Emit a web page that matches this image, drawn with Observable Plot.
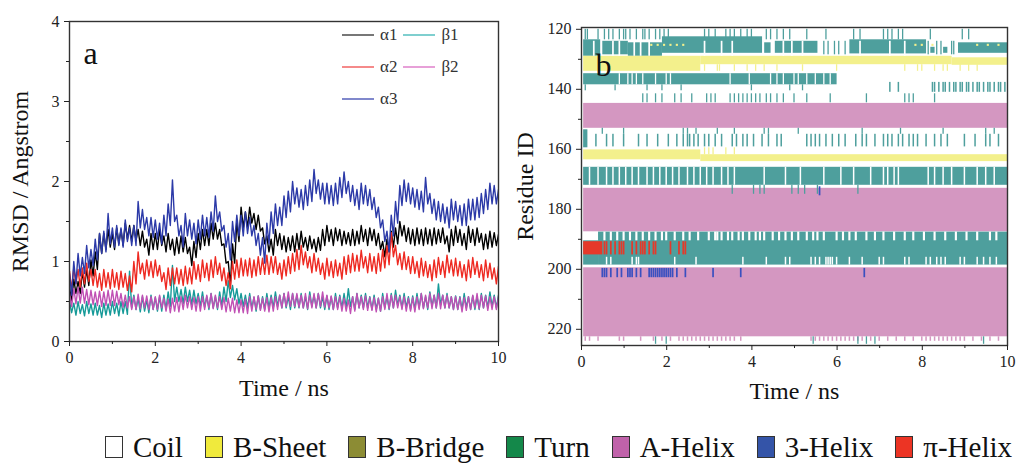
<!DOCTYPE html>
<html><head><meta charset="utf-8">
<script src="https://cdn.jsdelivr.net/npm/d3@7"></script>
<script src="https://cdn.jsdelivr.net/npm/@observablehq/plot@0.6"></script>
<style>
body{margin:0;background:#fff;font-family:"Liberation Serif","Times New Roman",serif;color:#222}
#wrap{position:relative;width:1016px;height:463px;overflow:hidden;background:#fff}
#pa{position:absolute;left:0;top:0}
#pb{position:absolute;left:505px;top:0}
svg text{font-family:"Liberation Serif","Times New Roman",serif}
#lga{position:absolute;left:342px;top:19px;display:grid;grid-template-columns:auto auto;column-gap:6px;grid-auto-rows:32px;font-size:17px;color:#333}
#lga .it{display:flex;align-items:center}
#lga .ln{display:inline-block;width:32px;height:1.6px;margin-right:6px}
#lgb{position:absolute;left:0;top:431px;width:1016px;height:32px;display:flex;align-items:center;justify-content:flex-end;padding-right:4px;box-sizing:border-box;font-size:29px;color:#111}
#lgb .it{display:flex;align-items:center;margin-left:22px}
#lgb .sw{display:inline-block;width:18px;height:22px;border:1px solid #333;margin-right:10px;box-sizing:border-box}
</style></head>
<body><div id="wrap"><div id="pa"></div><div id="pb"></div><div id="lga"></div><div id="lgb"></div></div>
<script>
// ---------- Panel a: RMSD traces, read as upper (hi) and lower (lo) excursions of the noisy trace every 0.1 ns ----------
const seriesNames = ["α1", "β1", "α2", "β2", "α3"];
const alpha1Hi = [0.68,0.78,0.75,0.88,0.9,1.02,1.12,1.35,1.35,1.4, 1.35,1.42,1.4,1.48,1.45,1.45,1.4,1.38,1.28,1.35, 1.35,1.4,1.32,1.35,1.28,1.3,1.32,1.3,1.18,1.25, 1.35,1.4,1.4,1.48,1.48,1.4,1.22,1.0,1.22,1.5, 1.68,1.62,1.68,1.6,1.58,1.42,1.32,1.28,1.4,1.35, 1.32,1.3,1.32,1.35,1.38,1.3,1.32,1.28,1.3,1.4, 1.45,1.4,1.42,1.4,1.38,1.36,1.4,1.38,1.45,1.4, 1.42,1.4,1.35,1.25,1.28,1.38,1.42,1.5,1.45,1.42, 1.4,1.42,1.4,1.42,1.4,1.42,1.4,1.42,1.32,1.4, 1.44,1.4,1.35,1.44,1.4,1.42,1.35,1.34,1.38,1.36, 1.34];
const alpha1Lo = [0.5,0.6,0.6,0.68,0.7,0.82,0.9,1.1,1.15,1.18, 1.15,1.22,1.2,1.28,1.25,1.26,1.2,1.18,1.08,1.15, 1.15,1.2,1.12,1.15,1.08,1.1,1.12,1.1,0.95,1.05, 1.15,1.2,1.2,1.28,1.28,1.2,0.98,0.7,0.98,1.25, 1.42,1.42,1.48,1.4,1.38,1.22,1.12,1.08,1.2,1.15, 1.12,1.14,1.12,1.15,1.18,1.14,1.16,1.12,1.14,1.2, 1.25,1.2,1.26,1.2,1.22,1.2,1.2,1.22,1.25,1.2, 1.26,1.2,1.15,1.06,1.12,1.18,1.22,1.32,1.25,1.22, 1.2,1.22,1.2,1.22,1.2,1.22,1.24,1.22,1.12,1.2, 1.24,1.2,1.15,1.24,1.2,1.24,1.15,1.16,1.18,1.2, 1.16];
const beta1Hi = [0.5,0.48,0.5,0.46,0.5,0.47,0.48,0.45,0.48,0.47, 0.5,0.48,0.5,0.5,0.88,0.58,0.54,0.56,0.52,0.58, 0.55,0.56,0.58,0.62,0.95,0.68,0.65,0.68,0.64,0.64, 0.6,0.62,0.56,0.6,0.56,0.62,0.68,0.76,0.7,0.66, 0.6,0.58,0.6,0.55,0.57,0.56,0.6,0.58,0.62,0.58, 0.6,0.56,0.6,0.58,0.6,0.56,0.62,0.58,0.6,0.56, 0.57,0.56,0.6,0.58,0.6,0.66,0.56,0.6,0.58,0.6, 0.56,0.58,0.54,0.6,0.56,0.6,0.64,0.58,0.6,0.56, 0.57,0.6,0.6,0.56,0.62,0.58,0.72,0.58,0.6,0.56, 0.57,0.56,0.6,0.56,0.57,0.56,0.6,0.58,0.62,0.58, 0.58];
const beta1Lo = [0.36,0.33,0.35,0.32,0.35,0.33,0.33,0.3,0.33,0.33, 0.35,0.32,0.35,0.34,0.42,0.4,0.37,0.38,0.36,0.4, 0.38,0.38,0.4,0.44,0.5,0.5,0.47,0.5,0.46,0.47, 0.44,0.43,0.4,0.42,0.4,0.44,0.5,0.55,0.52,0.47, 0.44,0.42,0.42,0.38,0.4,0.4,0.42,0.42,0.44,0.42, 0.42,0.4,0.42,0.42,0.42,0.4,0.44,0.42,0.42,0.4, 0.4,0.4,0.42,0.42,0.42,0.44,0.4,0.42,0.42,0.42, 0.4,0.4,0.38,0.42,0.4,0.42,0.45,0.42,0.42,0.4, 0.4,0.42,0.42,0.4,0.44,0.42,0.46,0.42,0.42,0.4, 0.4,0.4,0.42,0.4,0.4,0.4,0.42,0.42,0.44,0.42, 0.42];
const alpha2Hi = [0.88,0.92,0.9,0.92,0.98,0.9,0.9,0.85,0.9,0.86, 0.9,0.86,0.88,0.85,0.82,1.0,1.12,0.98,1.02,1.0, 1.02,0.95,0.86,0.92,0.92,0.92,0.9,0.94,0.92,1.0, 0.96,1.02,0.98,1.02,1.06,0.98,0.92,0.86,1.0,1.02, 1.04,1.02,1.04,1.02,1.06,1.04,1.08,1.06,1.06,0.98, 1.02,1.06,1.1,1.15,1.2,1.12,1.06,1.1,1.04,0.98, 1.04,1.0,1.02,0.98,1.06,1.08,1.1,1.08,1.14,1.06, 1.1,1.06,1.1,1.15,1.2,1.36,1.2,1.1,1.12,1.06, 1.06,1.0,1.04,1.0,0.96,1.02,1.05,1.0,1.08,1.02, 1.04,1.0,0.96,1.02,1.05,1.0,0.96,1.02,0.98,0.92, 0.94];
const alpha2Lo = [0.65,0.72,0.68,0.72,0.75,0.7,0.68,0.64,0.68,0.66, 0.68,0.65,0.68,0.64,0.62,0.72,0.85,0.78,0.82,0.8, 0.82,0.75,0.65,0.7,0.72,0.72,0.7,0.72,0.72,0.78, 0.75,0.8,0.76,0.8,0.84,0.76,0.7,0.66,0.78,0.8, 0.82,0.82,0.8,0.82,0.84,0.84,0.84,0.86,0.84,0.78, 0.82,0.85,0.88,0.9,0.96,0.92,0.86,0.88,0.84,0.78, 0.82,0.8,0.82,0.78,0.84,0.86,0.88,0.88,0.92,0.86, 0.88,0.85,0.88,0.92,0.96,1.06,0.96,0.9,0.9,0.85, 0.85,0.8,0.82,0.8,0.76,0.8,0.84,0.8,0.86,0.82, 0.82,0.8,0.76,0.8,0.84,0.8,0.76,0.8,0.78,0.72, 0.74];
const beta2Hi = [0.6,0.66,0.68,0.68,0.65,0.64,0.62,0.63,0.62,0.64, 0.64,0.63,0.6,0.58,0.56,0.56,0.59,0.58,0.57,0.56, 0.56,0.58,0.54,0.53,0.54,0.55,0.56,0.58,0.56,0.55, 0.56,0.56,0.58,0.6,0.58,0.56,0.55,0.54,0.54,0.52, 0.52,0.53,0.56,0.56,0.57,0.54,0.55,0.55,0.56,0.58, 0.6,0.62,0.6,0.6,0.58,0.6,0.58,0.6,0.6,0.62, 0.58,0.57,0.56,0.56,0.54,0.52,0.56,0.6,0.56,0.57, 0.55,0.55,0.54,0.56,0.6,0.58,0.58,0.56,0.56,0.54, 0.55,0.56,0.6,0.58,0.6,0.58,0.6,0.58,0.58,0.56, 0.56,0.55,0.55,0.56,0.58,0.6,0.58,0.57,0.56,0.56, 0.56];
const beta2Lo = [0.44,0.47,0.48,0.48,0.46,0.46,0.45,0.44,0.45,0.45, 0.45,0.46,0.43,0.42,0.4,0.4,0.41,0.42,0.4,0.4, 0.4,0.42,0.38,0.36,0.38,0.37,0.4,0.42,0.4,0.38, 0.38,0.4,0.42,0.41,0.42,0.4,0.37,0.38,0.36,0.36, 0.36,0.35,0.38,0.4,0.39,0.38,0.37,0.38,0.4,0.42, 0.44,0.44,0.44,0.43,0.42,0.41,0.42,0.42,0.44,0.43, 0.42,0.4,0.4,0.38,0.38,0.35,0.38,0.42,0.4,0.39, 0.39,0.37,0.38,0.4,0.41,0.42,0.42,0.4,0.38,0.38, 0.37,0.4,0.41,0.42,0.41,0.42,0.41,0.42,0.42,0.4, 0.4,0.37,0.39,0.4,0.42,0.41,0.42,0.39,0.4,0.4, 0.4];
const alpha3Hi = [0.85,1.0,1.1,1.05,1.2,1.15,1.28,1.35,1.38,1.6, 1.42,1.45,1.42,1.52,1.42,1.45,1.75,1.65,1.55,1.55, 1.52,1.48,1.58,1.72,2.02,1.58,1.45,1.6,1.52,1.48, 1.52,1.58,1.55,1.62,1.82,1.62,1.45,1.35,1.5,1.58, 1.58,1.62,1.55,1.45,1.35,1.3,1.48,1.62,1.72,1.68, 1.82,1.88,2.0,1.92,1.9,1.95,2.02,2.15,2.02,1.98, 1.98,1.95,1.98,2.05,2.12,2.0,1.95,1.9,1.98,1.95, 1.9,1.8,1.68,1.52,1.38,1.58,1.75,1.95,2.02,1.98, 1.92,1.9,1.88,2.05,1.85,1.78,1.75,1.72,1.68,1.78, 1.75,1.7,1.72,1.78,1.78,1.8,1.85,1.9,1.98,1.95, 1.9];
const alpha3Lo = [0.58,0.72,0.82,0.85,0.92,0.95,1.02,1.1,1.12,1.22, 1.18,1.2,1.18,1.25,1.2,1.2,1.42,1.4,1.32,1.3, 1.28,1.22,1.32,1.45,1.5,1.32,1.18,1.32,1.28,1.22, 1.28,1.32,1.3,1.38,1.5,1.38,1.18,1.02,1.25,1.32, 1.32,1.35,1.32,1.2,1.08,0.98,1.22,1.35,1.45,1.45, 1.55,1.62,1.72,1.68,1.65,1.7,1.75,1.85,1.78,1.72, 1.72,1.7,1.72,1.8,1.85,1.75,1.7,1.65,1.72,1.7, 1.65,1.55,1.42,1.25,1.12,1.32,1.48,1.7,1.75,1.72, 1.68,1.65,1.62,1.72,1.6,1.52,1.5,1.48,1.42,1.52, 1.5,1.45,1.45,1.52,1.52,1.55,1.6,1.65,1.72,1.72, 1.65];
const seriesHi = [alpha1Hi, beta1Hi, alpha2Hi, beta2Hi, alpha3Hi];
const seriesLo = [alpha1Lo, beta1Lo, alpha2Lo, beta2Lo, alpha3Lo];
const lineColors = ["#000000", "#169a98", "#ee2a22", "#c050b4", "#2c3aa8"];
const legendLineColors = ["#777777", "#7fcfcf", "#f58a8a", "#e7a0d8", "#8088cc"];
const rmsdXTicks = [0, 2, 4, 6, 8, 10];
const rmsdXMinor = [1, 3, 5, 7, 9];
const rmsdYTicks = [0, 1, 2, 3, 4];
const rmsdYMinor = [0.5, 1.5, 2.5, 3.5];

// ---------- Panel b: secondary structure timeline ----------
const ssTypes = ["Coil", "B-Sheet", "B-Bridge", "Turn", "A-Helix", "3-Helix", "π-Helix"];
const ssMapColors = ["#ffffff", "#f3f08c", "#8c8c34", "#4e9f9d", "#d497c1", "#3a50c0", "#e5392a"];
const ssLegendColors = ["#ffffff", "#f0ea3c", "#8c8c34", "#14884a", "#c062aa", "#3454a8", "#ec3424"];
const resTicks = [120, 140, 160, 180, 200, 220];
const resMinor = [130, 150, 170, 190, 210];
// solid blocks: [type, tStart, tEnd, resStart, resEnd]
const ssBlocks = [
  ["Turn", 0.05, 0.45, 123.5, 129], ["Turn", 0.5, 1.1, 124, 128.5], ["Turn", 1.1, 1.9, 124.5, 129],
  ["Turn", 1.9, 4.25, 122.5, 128], ["Turn", 4.3, 4.45, 124.5, 128], ["Turn", 4.55, 5.55, 124, 128],
  ["Turn", 6.3, 8.1, 123.5, 128.2], ["Turn", 8.2, 8.3, 126, 128], ["Turn", 8.5, 8.6, 126, 128],
  ["Turn", 8.85, 10, 124.5, 128],
  ["B-Sheet", 0.05, 2.8, 129, 134], ["B-Sheet", 2.8, 8.7, 129, 131.8], ["B-Sheet", 8.7, 10, 129.5, 132],
  ["Turn", 0.05, 6.0, 134.8, 138.5],
  ["A-Helix", 0.05, 10, 144.7, 153],
  ["Turn", 0.05, 0.15, 153.5, 159.5],
  ["B-Sheet", 0.05, 2.8, 160.2, 163.5], ["B-Sheet", 2.8, 10, 161.8, 164.1],
  ["Turn", 0.05, 10, 166, 172],
  ["A-Helix", 0.05, 10, 173, 187.5],
  ["Turn", 0.4, 10, 187.6, 198.6], ["Turn", 0.05, 0.4, 190.5, 198.6],
  ["π-Helix", 0.05, 0.5, 190.8, 195.2],
  ["A-Helix", 0.05, 10, 199.5, 222.5]
];
// thin stripes: [type, resStart, resEnd, width(ns), times]
const ssStripes = [
  ["Turn", 120, 123.5, 0.03, [0.1,0.15,0.4,0.55,0.65,0.75,0.9,1.0,1.05,1.15,1.3,1.45,1.5,1.6,1.75,1.85,1.95,2.05,2.9,3.0,3.15,3.4,3.5,3.6,3.75,3.9,4.0,4.35,4.45,4.6,4.75,4.9,5.3,5.75,6.4,6.55,7.1,7.2,7.3,7.45,7.55,8.2,8.95,9.1]],
  ["Coil", 124, 129, 0.04, [0.3,0.75,0.9,1.25,1.4,1.6,2.9,3.3,3.55,4.75,4.95,5.2,6.55,7.25,7.6]],
  ["Turn", 124, 128.5, 0.03, [5.7,5.8,5.95,6.05,6.2,8.15,8.35,8.45,8.7,8.75]],
  ["B-Sheet", 125, 125.7, 0.05, [1.65,1.8,1.95,2.1,2.25,2.4,7.85,8.0,8.25,9.3,9.55,9.8]],
  ["B-Sheet", 131.8, 134, 0.03, [2.9,3.2,3.25,3.6,3.9,4.1,4.3,4.6,5.2,6.0,7.6,7.9,8.0,8.3,8.5,8.6,8.9,9.1,9.3]],
  ["Coil", 134.8, 138.5, 0.03, [0.9,1.1,1.2,1.3,1.45,1.75,2.0,2.1,3.5,3.95,4.45,4.6,4.75,5.0,5.1,5.3,5.5,5.7,5.85]],
  ["Turn", 138.5, 140.5, 0.03, [0.1,0.8,1.55,1.9,2.35,4.0,4.9,5.2]],
  ["Turn", 137.7, 141, 0.035, [7.25,7.45,8.25,8.3,8.4,8.5,8.55,8.65,8.75,8.8,8.9,8.95,9.05,9.1,9.2,9.3,9.35,9.45,9.55,9.6,9.7,9.8,9.85,9.95]],
  ["Turn", 141.5, 144.5, 0.03, [1.45,1.55,1.75,1.9,2.2,2.35,2.6,2.95,3.05,3.15,3.5,3.6,3.7,3.8,3.9,4.0,4.1,4.2,4.35,4.45,4.6,4.75,5.0,5.3,5.85,6.7,7.6,7.7,7.8,8.3]],
  ["Turn", 153, 155, 0.03, [0.5,1.0,2.4,2.5,2.7,3.2,3.6,4.3,4.4,5.1,6.6,7.5,8.5,9.5,9.7]],
  ["Turn", 155, 159.2, 0.035, [0.35,0.6,0.75,1.0,1.35,1.55,1.8,2.05,2.25,2.4,2.5,2.55,2.65,2.75,2.9,3.0,3.15,3.3,3.55,3.65,3.8,3.9,4.05,4.25,4.4,4.6,4.7,5.3,5.4,5.5,5.6,5.75,5.9,6.05,6.2,6.45,6.6,6.7,6.9,7.1,7.2,7.3,7.45,7.55,7.7,7.8,7.9,8.1,8.3,8.45,8.6,9.0,9.25,9.5,9.6,9.8]],
  ["B-Sheet", 159.5, 161.8, 0.03, [2.9,3.0,3.1,3.4,3.6]],
  ["Coil", 166, 172, 0.035, [0.2,0.4,0.6,0.75,0.9,1.05,1.2,1.35,1.55,1.7,1.85,2.0,2.15,2.3,2.5,2.65,2.8,2.95,3.1,3.3,3.45,3.6,4.3,4.8,5.15,5.7,6.1,6.4,6.8,7.1,7.2,7.35,7.45,8.15,8.3,8.5,8.7,9.0,9.3,9.5,9.7]],
  ["Turn", 172, 175, 0.03, [3.55,4.05,4.2,4.3,4.95,5.1,5.25,5.55,6.5]],
  ["3-Helix", 172.5, 175.5, 0.04, [5.6]],
  ["Coil", 187.6, 190.5, 0.05, [0.55,0.7,0.85,1.0,1.15,1.3,1.45,1.6,1.75,1.9,2.0,2.2,2.4,2.55,2.75,3.0,3.15,3.2,3.3,3.45,3.55,3.7,3.8,3.95,4.1,4.2,4.3,4.5,4.65,4.8,4.95,5.1,5.3,5.45,5.55,5.7,6.0,6.15,6.3,6.45,6.7,6.9,7.1,7.35,7.6,7.8,8.05,8.3,8.55,8.8,9.05,9.3,9.6,9.75]],
  ["Coil", 196, 198.6, 0.035, [0.6,0.7,1.2,1.3,1.35,2.2,2.7,3.8,4.35,4.8,4.9,5.4,5.5,5.6,5.75,5.8,5.85,5.9,6.0,6.3,6.6,7.0,7.1,7.6,7.7,8.1,8.2,8.35,8.45,8.55,8.9,9.0,9.3,9.45,9.6,9.75]],
  ["π-Helix", 190.8, 195.2, 0.04, [0.55,0.6,0.7,0.8,0.9,0.95,1.0,1.2,1.3,1.4,1.45,1.5,1.6,1.7,1.75,2.1,2.3,2.4,2.45]],
  ["3-Helix", 199.7, 202.8, 0.04, [0.5,0.55,0.6,0.7,0.85,0.95,1.1,1.15,1.2,1.3,1.4,1.6,1.65,1.7,1.75,1.8,1.85,1.9,1.95,2.0,2.05,2.1,2.15,2.25,2.45,3.1,3.75,6.65]],
  ["A-Helix", 222.5, 224, 0.035, [0.1,0.2,0.4,0.9,1.0,1.4,1.7,1.9,2.1,2.3,2.4,2.5,2.6,2.7,2.8,2.9,3.0,3.1,3.2,3.3,3.4,3.5,3.6,3.75,5.4,5.5,5.6,5.7,5.8,5.9,6.0,6.1,6.2,6.3,6.4,6.5,6.6,6.8,7.0,7.2,7.4,7.6,7.8,8.0,8.1,8.2,8.3,8.4,8.5,8.6,8.7,8.8,8.9,9.0,9.2,9.4,9.6,9.8]],
  ["Turn", 222.5, 225, 0.03, [1.75,2.0,5.45,6.5,6.7,6.9,9.45]]
];

// ---------- build panel a ----------
const rmsdRows = [];
seriesNames.forEach((name, k) => {
  seriesHi[k].forEach((v, i) => {
    rmsdRows.push({s: name, t: i / 10, v});
    if (i < seriesLo[k].length - 1) rmsdRows.push({s: name, t: i / 10 + 0.05, v: seriesLo[k][i]});
  });
});
const font = "'Liberation Serif', 'Times New Roman', serif";
const fmt = d => String(d);
const plotA = Plot.plot({
  width: 510, height: 415,
  marginLeft: 69, marginRight: 12, marginTop: 21, marginBottom: 74,
  x: {domain: [0, 10], label: null},
  y: {domain: [0, 4], label: null},
  color: {domain: seriesNames, range: lineColors},
  style: {fontFamily: font, fontSize: "16px", color: "#222", background: "transparent", overflow: "visible"},
  marks: [
    Plot.line(rmsdRows, {x: "t", y: "v", z: "s", stroke: "s", strokeWidth: 1.4, clip: true}),
    Plot.frame({stroke: "#333", strokeWidth: 1.4}),
    Plot.axisX(rmsdXTicks, {tickSize: 5, tickPadding: 5, label: null, fontSize: 16, tickFormat: fmt}),
    Plot.axisX(rmsdXMinor, {tickSize: 3, tickFormat: () => "", label: null}),
    Plot.axisY(rmsdYTicks, {tickSize: 5, tickPadding: 5, label: null, fontSize: 16, tickFormat: fmt}),
    Plot.axisY(rmsdYMinor, {tickSize: 3, tickFormat: () => "", label: null}),
    Plot.text(["a"], {frameAnchor: "top-left", dx: 14, dy: 20, fontSize: 32, fill: "#111"}),
    Plot.text(["Time / ns"], {frameAnchor: "bottom", dy: 54, fontSize: 24, fill: "#111"}),
    Plot.text(["RMSD / Angstrom"], {frameAnchor: "left", textAnchor: "middle", dx: -49, rotate: -90, fontSize: 24, fill: "#111"})
  ]
});
document.getElementById("pa").appendChild(plotA);

// ---------- build panel b ----------
const ssRects = ssBlocks.map(([type, t0, t1, r0, r1]) => ({type, t0, t1, r0, r1}));
ssStripes.forEach(([type, r0, r1, w, ts]) => ts.forEach(t => ssRects.push({type, t0: t - w / 2, t1: t + w / 2, r0, r1})));
const plotB = Plot.plot({
  width: 511, height: 415,
  marginLeft: 76, marginRight: 9, marginTop: 27, marginBottom: 70,
  x: {domain: [0, 10], label: null},
  y: {domain: [119.4, 225.4], reverse: true, label: null},
  color: {domain: ssTypes, range: ssMapColors},
  style: {fontFamily: font, fontSize: "16px", color: "#222", background: "transparent", overflow: "visible"},
  marks: [
    Plot.rect(ssRects, {x1: "t0", x2: "t1", y1: "r0", y2: "r1", fill: "type", clip: true}),
    Plot.frame({stroke: "#333", strokeWidth: 1.4}),
    Plot.axisX(rmsdXTicks, {tickSize: 5, tickPadding: 5, label: null, fontSize: 16, tickFormat: fmt}),
    Plot.axisX(rmsdXMinor, {tickSize: 3, tickFormat: () => "", label: null}),
    Plot.axisY(resTicks, {tickSize: 5, tickPadding: 5, label: null, fontSize: 16, tickFormat: fmt}),
    Plot.axisY(resMinor, {tickSize: 3, tickFormat: () => "", label: null}),
    Plot.text(["b"], {frameAnchor: "top-left", dx: 14, dy: 26, fontSize: 32, fill: "#111"}),
    Plot.text(["Time / ns"], {frameAnchor: "bottom", dy: 53, fontSize: 24, fill: "#111"}),
    Plot.text(["Residue ID"], {frameAnchor: "left", textAnchor: "middle", dx: -56, rotate: -90, fontSize: 24, fill: "#111"})
  ]
});
document.getElementById("pb").appendChild(plotB);

// ---------- legends ----------
const lga = document.getElementById("lga");
seriesNames.forEach((name, k) => {
  const it = document.createElement("div");
  it.className = "it";
  it.innerHTML = `<span class="ln" style="background:${legendLineColors[k]}"></span><span>${name}</span>`;
  lga.appendChild(it);
});
const lgb = document.getElementById("lgb");
ssTypes.forEach((name, k) => {
  const it = document.createElement("div");
  it.className = "it";
  it.innerHTML = `<span class="sw" style="background:${ssLegendColors[k]}"></span><span>${name}</span>`;
  lgb.appendChild(it);
});
</script></body></html>
